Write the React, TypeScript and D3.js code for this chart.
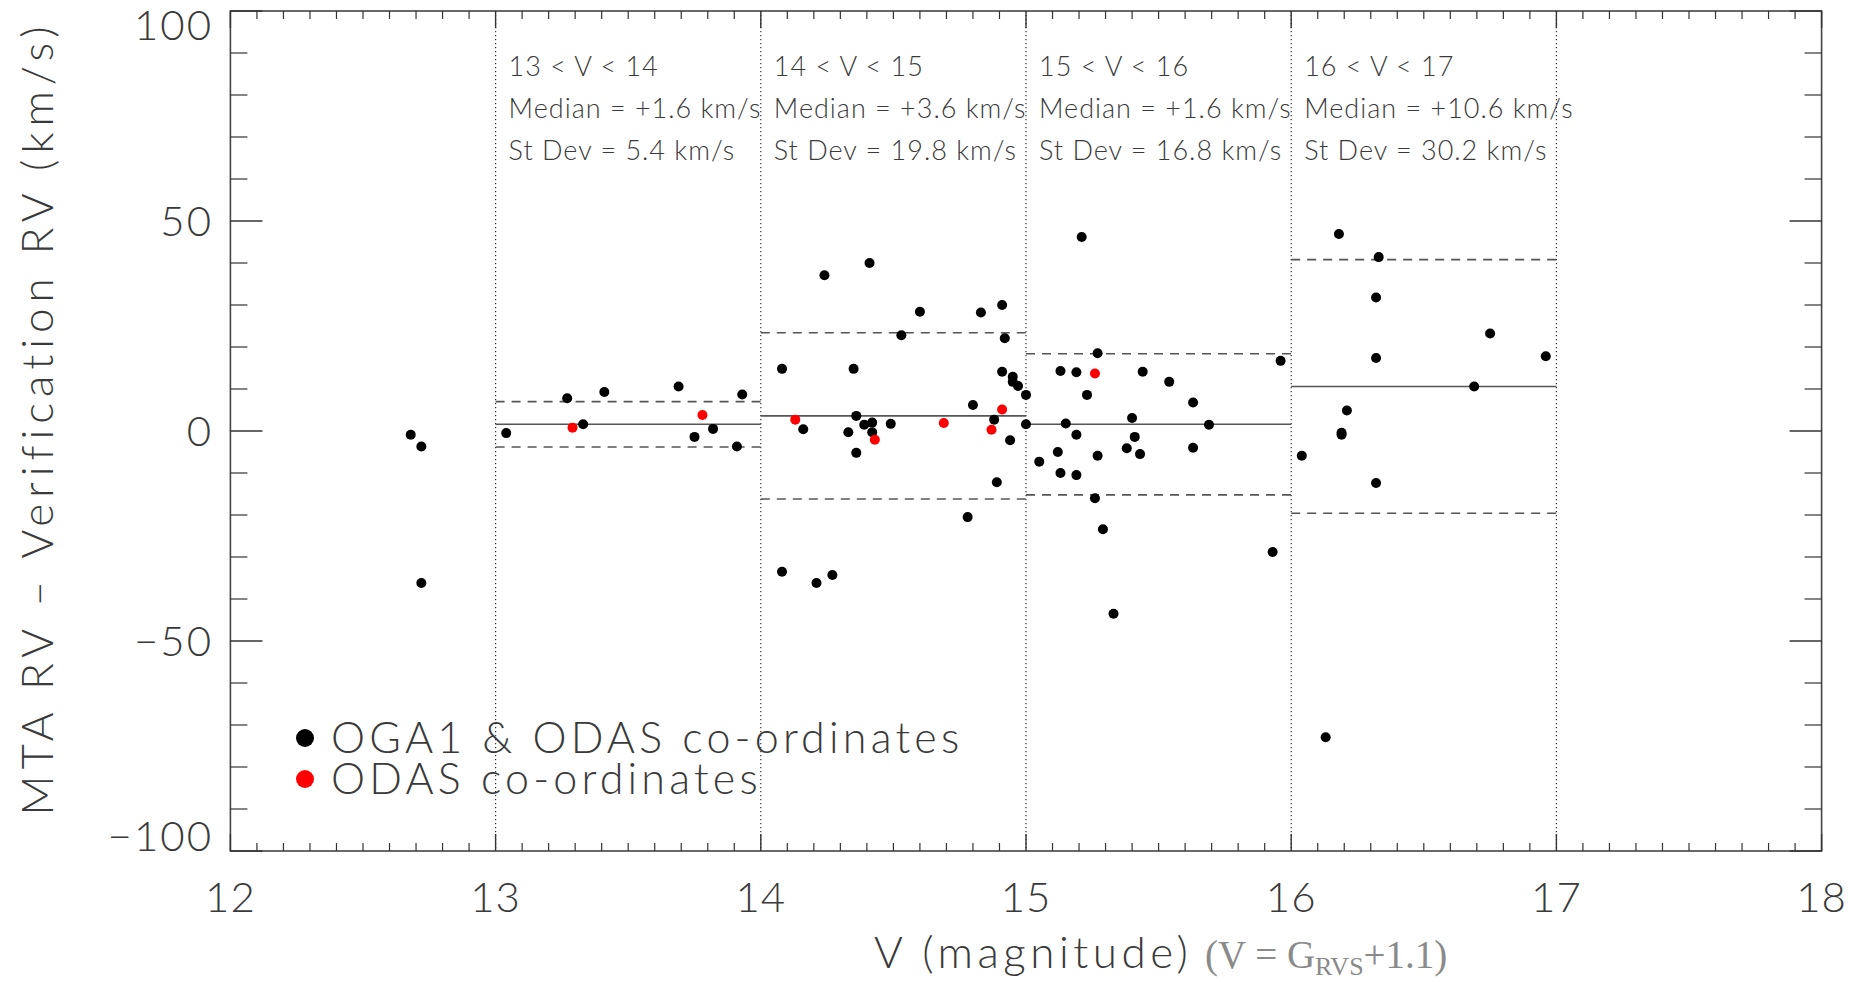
import * as d3 from 'd3';

// magnitude bins and their stats
const binLo = [13, 14, 15, 16];
const binHi = [14, 15, 16, 17];
const binMedian = [1.6, 3.6, 1.6, 10.6];
const binStdev = [5.4, 19.8, 16.8, 30.2];

// OGA1 & ODAS co-ordinates (black)
const blackV = [
  12.68, 12.72, 12.72,
  13.04, 13.27, 13.33, 13.41, 13.69, 13.75, 13.82, 13.91, 13.93,
  14.08, 14.16, 14.24, 14.35, 14.36, 14.33, 14.36, 14.39, 14.42, 14.42, 14.41, 14.49,
  14.53, 14.6, 14.78, 14.8, 14.83, 14.91, 14.92, 14.91, 14.95, 14.95, 14.97, 15.0,
  14.88, 14.94, 14.89, 15.0, 14.08, 14.21, 14.27,
  15.05, 15.12, 15.13, 15.13, 15.15, 15.19, 15.19, 15.19, 15.21, 15.23, 15.27, 15.27,
  15.26, 15.29, 15.33, 15.38, 15.4, 15.41, 15.43, 15.44, 15.54, 15.63, 15.63, 15.69,
  15.93, 15.96,
  16.04, 16.18, 16.33, 16.32, 16.32, 16.21, 16.19, 16.19, 16.32, 16.75, 16.69, 16.96, 16.13,
];
const blackDv = [
  -0.9, -3.7, -36.2,
  -0.5, 7.8, 1.6, 9.3, 10.6, -1.4, 0.5, -3.7, 8.7,
  14.8, 0.4, 37.1, 14.8, 3.6, -0.3, -5.2, 1.5, 2.0, -0.3, 40.0, 1.7,
  22.8, 28.4, -20.5, 6.2, 28.2, 30.0, 22.1, 14.1, 12.9, 11.7, 10.7, 8.6,
  2.7, -2.2, -12.2, 1.6, -33.5, -36.2, -34.3,
  -7.3, -5.0, 14.3, -10.0, 1.8, 14.0, -0.9, -10.5, 46.2, 8.6, 18.5, -5.9,
  -16.0, -23.4, -43.5, -4.1, 3.1, -1.4, -5.5, 14.1, 11.7, 6.8, -4.0, 1.5,
  -28.8, 16.7,
  -5.9, 46.9, 41.4, 31.8, 17.4, 4.9, -0.4, -0.9, -12.4, 23.2, 10.6, 17.8, -72.9,
];

// ODAS co-ordinates (red)
const redV = [13.29, 13.78, 14.13, 14.43, 14.69, 14.91, 14.87, 15.26];
const redDv = [0.8, 3.8, 2.7, -2.1, 1.9, 5.1, 0.3, 13.7];

const xTicks = [12, 13, 14, 15, 16, 17, 18];
const yTicks = [-100, -50, 0, 50, 100];

const W = 1862;
const H = 982;
const PL = 230.4, PR = 1821.6, PT = 11, PB = 851;
const FONT = "Lato, 'DejaVu Sans', sans-serif";
const INK = '#3a3a3a';

export default function App() {
  const x = d3.scaleLinear().domain([12, 18]).range([PL, PR]);
  const y = d3.scaleLinear().domain([-100, 100]).range([PB, PT]);
  const xMinor = d3.range(121, 180).map((d) => d / 10).filter((d) => !xTicks.includes(d));
  const yMinor = d3.range(-90, 100, 10).filter((d) => !yTicks.includes(d));
  const fmt = (d: number) => (d < 0 ? '\u2212' + Math.abs(d) : String(d));

  return (
    <svg width={W} height={H} style={{ position: 'fixed', left: 0, top: 0, background: '#fff' }}>
      {/* bin separators */}
      {[...binLo, binHi[binHi.length - 1]].map((b) => (
        <line key={'sep' + b} x1={x(b)} x2={x(b)} y1={PT} y2={PB} stroke="#333" strokeWidth={1.2} strokeDasharray="1.3,2.7" />
      ))}

      {/* median and +-stdev lines */}
      {binLo.map((lo, i) => (
        <g key={'bin' + i}>
          <line x1={x(lo)} x2={x(binHi[i])} y1={y(binMedian[i])} y2={y(binMedian[i])} stroke="#555" strokeWidth={1.6} />
          <line x1={x(lo)} x2={x(binHi[i])} y1={y(binMedian[i] + binStdev[i])} y2={y(binMedian[i] + binStdev[i])} stroke="#555" strokeWidth={1.6} strokeDasharray="9,7" />
          <line x1={x(lo)} x2={x(binHi[i])} y1={y(binMedian[i] - binStdev[i])} y2={y(binMedian[i] - binStdev[i])} stroke="#555" strokeWidth={1.6} strokeDasharray="9,7" />
          <g fontFamily={FONT} fontWeight={300} fontSize={27} fill={INK} letterSpacing={1}>
            <text x={x(lo) + 13} y={76}>{`${lo} < V < ${binHi[i]}`}</text>
            <text x={x(lo) + 13} y={118}>{`Median = +${binMedian[i].toFixed(1)} km/s`}</text>
            <text x={x(lo) + 13} y={160}>{`St Dev = ${binStdev[i].toFixed(1)} km/s`}</text>
          </g>
        </g>
      ))}

      {/* points */}
      {blackV.map((v, i) => (
        <circle key={'b' + i} cx={x(v)} cy={y(blackDv[i])} r={5} fill="#000" />
      ))}
      {redV.map((v, i) => (
        <circle key={'r' + i} cx={x(v)} cy={y(redDv[i])} r={5} fill="#f00" />
      ))}

      {/* frame */}
      <rect x={PL} y={PT} width={PR - PL} height={PB - PT} fill="none" stroke="#444" strokeWidth={1.6} />

      {/* x ticks */}
      {xTicks.map((t) => (
        <g key={'xt' + t} stroke="#333" strokeWidth={1.4}>
          <line x1={x(t)} x2={x(t)} y1={PB} y2={PB - 17} />
          <line x1={x(t)} x2={x(t)} y1={PT} y2={PT + 17} />
        </g>
      ))}
      {xMinor.map((t) => (
        <g key={'xm' + t} stroke="#333" strokeWidth={1.2}>
          <line x1={x(t)} x2={x(t)} y1={PB} y2={PB - 8} />
          <line x1={x(t)} x2={x(t)} y1={PT} y2={PT + 8} />
        </g>
      ))}
      {/* y ticks */}
      {yTicks.map((t) => (
        <g key={'yt' + t} stroke="#333" strokeWidth={1.4}>
          <line x1={PL} x2={PL + 32} y1={y(t)} y2={y(t)} />
          <line x1={PR} x2={PR - 32} y1={y(t)} y2={y(t)} />
        </g>
      ))}
      {yMinor.map((t) => (
        <g key={'ym' + t} stroke="#333" strokeWidth={1.2}>
          <line x1={PL} x2={PL + 17} y1={y(t)} y2={y(t)} />
          <line x1={PR} x2={PR - 17} y1={y(t)} y2={y(t)} />
        </g>
      ))}

      {/* tick labels */}
      <g fontFamily={FONT} fontWeight={300} fontSize={42} fill={INK}>
        {xTicks.map((t) => (
          <text key={'xl' + t} x={x(t)} y={912} textAnchor="middle" letterSpacing={1}>{t}</text>
        ))}
        {yTicks.map((t) => (
          <text key={'yl' + t} x={213} y={Math.min(Math.max(y(t), PT + 14), PB - 15) + 15} textAnchor="end" letterSpacing={2}>
            {fmt(t)}
          </text>
        ))}
      </g>

      {/* axis titles */}
      <text transform="translate(53,418) rotate(-90)" textAnchor="middle" fontFamily={FONT} fontWeight={300} fontSize={44} fill={INK} letterSpacing={6}>
        MTA RV – Verification RV (km/s)
      </text>
      <text x={874} y={968} fontFamily={FONT} fontWeight={300} fontSize={44} fill={INK} letterSpacing={4.5}>
        V (magnitude)
      </text>
      <text x={1205} y={968} fontFamily="'Liberation Serif', 'DejaVu Serif', serif" fontSize={39} fill="#8a8a8a">
        (V = G<tspan fontSize={26} dy={7}>RVS</tspan><tspan dy={-7}>+1.1)</tspan>
      </text>

      {/* legend */}
      <circle cx={305} cy={738} r={9} fill="#000" />
      <circle cx={305} cy={779} r={9} fill="#f00" />
      <g fontFamily={FONT} fontWeight={300} fontSize={43} fill={INK} letterSpacing={4.2}>
        <text x={331} y={753}>OGA1 &amp; ODAS co-ordinates</text>
        <text x={331} y={794}>ODAS co-ordinates</text>
      </g>
    </svg>
  );
}
